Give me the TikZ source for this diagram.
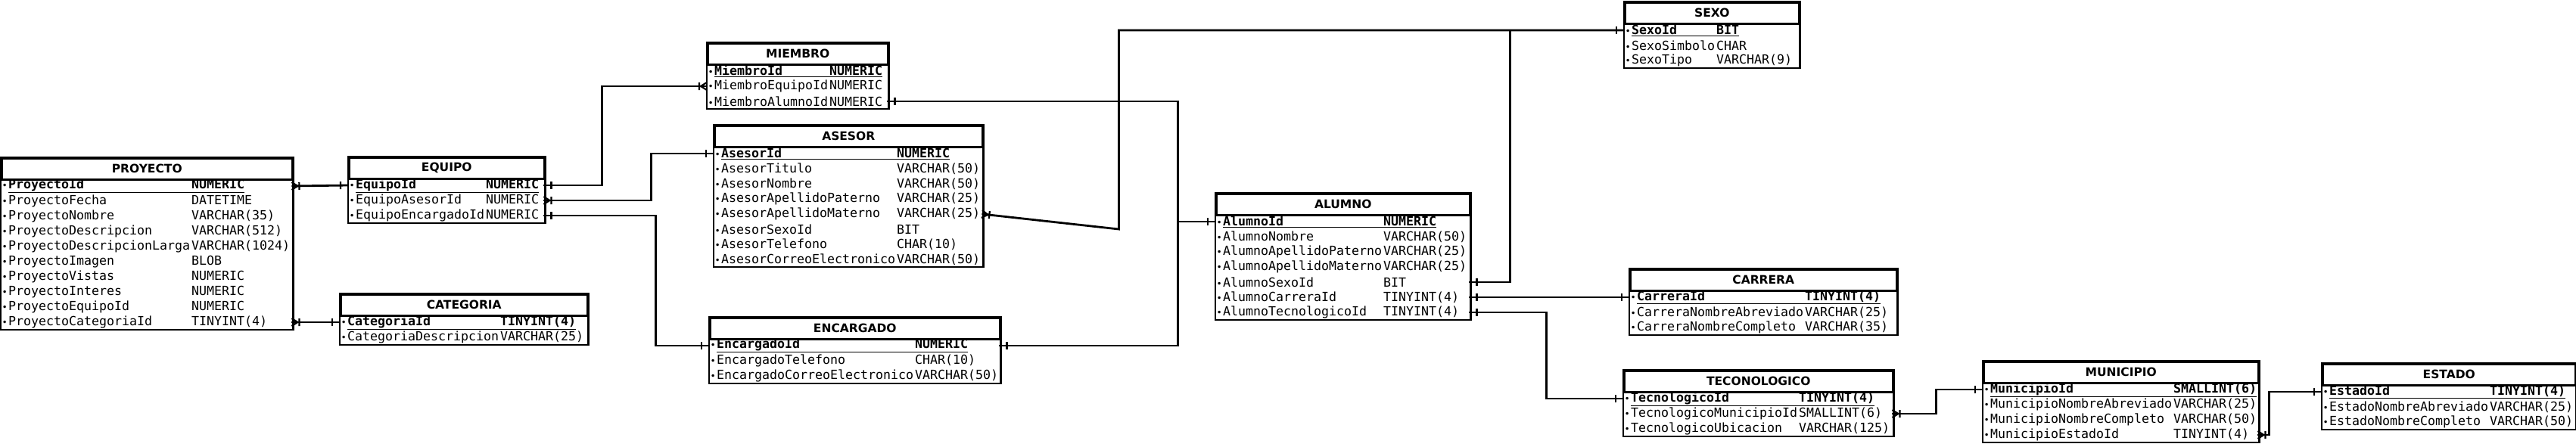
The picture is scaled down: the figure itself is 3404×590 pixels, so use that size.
\documentclass[tikz,border=0pt]{standalone}
\usepackage{fontspec}
\setmonofont{DejaVu Sans Mono}
\setsansfont{DejaVu Sans}
\usetikzlibrary{fit,decorations.markings}
\newcommand{\rowfont}{\ttfamily\fontsize{16.61}{20}\selectfont}
\newcommand{\titlefont}{\sffamily\bfseries\fontsize{15.5}{18}\selectfont}
\newcommand{\bul}{\makebox[10pt][c]{\fontsize{12}{12}\selectfont\textbullet}}
\newcommand{\pk}[1]{\textbf{\underline{#1}}}

\begin{document}
\begin{tikzpicture}[x=1pt,y=-1pt]

\tikzstyle{tbltitle}=[draw, line width=2.5pt, anchor=north west, minimum height=28pt, inner sep=0pt, font=\titlefont]
\tikzstyle{tblrow}=[anchor=west, inner sep=0pt, minimum height=20pt, align=left, font=\rowfont]
\tikzstyle{tblbox}=[draw, line width=2.5pt, inner sep=0pt]
\tikzstyle{link}=[line width=2.8pt]
\tikzstyle{one start}=[postaction={decorate,decoration={markings,mark=at position 10pt with {\draw[line width=2.2pt] (0pt,-5pt) -- (0pt,5pt);}}}]
\tikzstyle{one end}=[postaction={decorate,decoration={markings,mark=at position -10pt with {\draw[line width=2.2pt] (0pt,-5pt) -- (0pt,5pt);}}}]
\tikzstyle{many start}=[postaction={decorate,decoration={markings,mark=at position 0pt with {\draw[line width=2.2pt] (0pt,-5pt) -- (8pt,0pt) -- (0pt,5pt) (10pt,-5pt) -- (10pt,5pt);}}}]
\tikzstyle{many end}=[postaction={decorate,decoration={markings,mark=at position 1 with {\draw[line width=2.2pt] (0pt,-5pt) -- (-8pt,0pt) -- (0pt,5pt) (-10pt,-5pt) -- (-10pt,5pt);}}}]

\useasboundingbox (0,0) rectangle (3404,590);

% PROYECTO
\node[tbltitle, minimum width=384pt] (proyecto) at (1,208) {PROYECTO};
\node[tblrow, text width=384pt] (proyecto-1) at (1,246) {\bul\pk{\makebox[242pt][l]{ProyectoId}NUMERIC}};
\node[tblrow, text width=384pt] (proyecto-2) at (1,266) {\bul\makebox[242pt][l]{ProyectoFecha}DATETIME};
\node[tblrow, text width=384pt] (proyecto-3) at (1,286) {\bul\makebox[242pt][l]{ProyectoNombre}VARCHAR(35)};
\node[tblrow, text width=384pt] (proyecto-4) at (1,306) {\bul\makebox[242pt][l]{ProyectoDescripcion}VARCHAR(512)};
\node[tblrow, text width=384pt] (proyecto-5) at (1,326) {\bul\makebox[242pt][l]{ProyectoDescripcionLarga}VARCHAR(1024)};
\node[tblrow, text width=384pt] (proyecto-6) at (1,346) {\bul\makebox[242pt][l]{ProyectoImagen}BLOB};
\node[tblrow, text width=384pt] (proyecto-7) at (1,366) {\bul\makebox[242pt][l]{ProyectoVistas}NUMERIC};
\node[tblrow, text width=384pt] (proyecto-8) at (1,386) {\bul\makebox[242pt][l]{ProyectoInteres}NUMERIC};
\node[tblrow, text width=384pt] (proyecto-9) at (1,406) {\bul\makebox[242pt][l]{ProyectoEquipoId}NUMERIC};
\node[tblrow, text width=384pt] (proyecto-10) at (1,426) {\bul\makebox[242pt][l]{ProyectoCategoriaId}TINYINT(4)};
\node[tblbox, fit=(proyecto)(proyecto-10)] (proyecto-box) {};

% EQUIPO
\node[tbltitle, minimum width=258pt] (equipo) at (460,207) {EQUIPO};
\node[tblrow, text width=258pt] (equipo-1) at (460,245) {\bul\pk{\makebox[172pt][l]{EquipoId}NUMERIC}};
\node[tblrow, text width=258pt] (equipo-2) at (460,265) {\bul\makebox[172pt][l]{EquipoAsesorId}NUMERIC};
\node[tblrow, text width=258pt] (equipo-3) at (460,285) {\bul\makebox[172pt][l]{EquipoEncargadoId}NUMERIC};
\node[tblbox, fit=(equipo)(equipo-3)] (equipo-box) {};

% CATEGORIA
\node[tbltitle, minimum width=326pt] (categoria) at (449,388) {CATEGORIA};
\node[tblrow, text width=326pt] (categoria-1) at (449,426) {\bul\pk{\makebox[202pt][l]{CategoriaId}TINYINT(4)}};
\node[tblrow, text width=326pt] (categoria-2) at (449,446) {\bul\makebox[202pt][l]{CategoriaDescripcion}VARCHAR(25)};
\node[tblbox, fit=(categoria)(categoria-2)] (categoria-box) {};

% MIEMBRO
\node[tbltitle, minimum width=238pt] (miembro) at (934,56) {MIEMBRO};
\node[tblrow, text width=238pt] (miembro-1) at (934,94) {\bul\pk{\makebox[152pt][l]{MiembroId}NUMERIC}};
\node[tblrow, text width=238pt] (miembro-2) at (934,114) {\bul\makebox[152pt][l]{MiembroEquipoId}NUMERIC};
\node[tblrow, text width=238pt] (miembro-3) at (934,134) {\bul\makebox[152pt][l]{MiembroAlumnoId}NUMERIC};
\node[tblbox, fit=(miembro)(miembro-3)] (miembro-box) {};

% ASESOR
\node[tbltitle, minimum width=354pt] (asesor) at (943,165) {ASESOR};
\node[tblrow, text width=354pt] (asesor-1) at (943,203) {\bul\pk{\makebox[232pt][l]{AsesorId}NUMERIC}};
\node[tblrow, text width=354pt] (asesor-2) at (943,223) {\bul\makebox[232pt][l]{AsesorTitulo}VARCHAR(50)};
\node[tblrow, text width=354pt] (asesor-3) at (943,243) {\bul\makebox[232pt][l]{AsesorNombre}VARCHAR(50)};
\node[tblrow, text width=354pt] (asesor-4) at (943,263) {\bul\makebox[232pt][l]{AsesorApellidoPaterno}VARCHAR(25)};
\node[tblrow, text width=354pt] (asesor-5) at (943,283) {\bul\makebox[232pt][l]{AsesorApellidoMaterno}VARCHAR(25)};
\node[tblrow, text width=354pt] (asesor-6) at (943,303) {\bul\makebox[232pt][l]{AsesorSexoId}BIT};
\node[tblrow, text width=354pt] (asesor-7) at (943,323) {\bul\makebox[232pt][l]{AsesorTelefono}CHAR(10)};
\node[tblrow, text width=354pt] (asesor-8) at (943,343) {\bul\makebox[232pt][l]{AsesorCorreoElectronico}VARCHAR(50)};
\node[tblbox, fit=(asesor)(asesor-8)] (asesor-box) {};

% ENCARGADO
\node[tbltitle, minimum width=383pt] (encargado) at (937,419) {ENCARGADO};
\node[tblrow, text width=383pt] (encargado-1) at (937,457) {\bul\pk{\makebox[262pt][l]{EncargadoId}NUMERIC}};
\node[tblrow, text width=383pt] (encargado-2) at (937,477) {\bul\makebox[262pt][l]{EncargadoTelefono}CHAR(10)};
\node[tblrow, text width=383pt] (encargado-3) at (937,497) {\bul\makebox[262pt][l]{EncargadoCorreoElectronico}VARCHAR(50)};
\node[tblbox, fit=(encargado)(encargado-3)] (encargado-box) {};

% ALUMNO
\node[tbltitle, minimum width=335pt] (alumno) at (1606,255) {ALUMNO};
\node[tblrow, text width=335pt] (alumno-1) at (1606,293) {\bul\pk{\makebox[212pt][l]{AlumnoId}NUMERIC}};
\node[tblrow, text width=335pt] (alumno-2) at (1606,313) {\bul\makebox[212pt][l]{AlumnoNombre}VARCHAR(50)};
\node[tblrow, text width=335pt] (alumno-3) at (1606,333) {\bul\makebox[212pt][l]{AlumnoApellidoPaterno}VARCHAR(25)};
\node[tblrow, text width=335pt] (alumno-4) at (1606,353) {\bul\makebox[212pt][l]{AlumnoApellidoMaterno}VARCHAR(25)};
\node[tblrow, text width=335pt] (alumno-5) at (1606,373) {\bul\makebox[212pt][l]{AlumnoSexoId}BIT};
\node[tblrow, text width=335pt] (alumno-6) at (1606,393) {\bul\makebox[212pt][l]{AlumnoCarreraId}TINYINT(4)};
\node[tblrow, text width=335pt] (alumno-7) at (1606,413) {\bul\makebox[212pt][l]{AlumnoTecnologicoId}TINYINT(4)};
\node[tblbox, fit=(alumno)(alumno-7)] (alumno-box) {};

% SEXO
\node[tbltitle, minimum width=230pt] (sexo) at (2146,2) {SEXO};
\node[tblrow, text width=230pt] (sexo-1) at (2146,40) {\bul\pk{\makebox[112pt][l]{SexoId}BIT}};
\node[tblrow, text width=230pt] (sexo-2) at (2146,60) {\bul\makebox[112pt][l]{SexoSimbolo}CHAR};
\node[tblrow, text width=230pt] (sexo-3) at (2146,80) {\bul\makebox[112pt][l]{SexoTipo}VARCHAR(9)};
\node[tblbox, fit=(sexo)(sexo-3)] (sexo-box) {};

% CARRERA
\node[tbltitle, minimum width=352pt] (carrera) at (2153,355) {CARRERA};
\node[tblrow, text width=352pt] (carrera-1) at (2153,393) {\bul\pk{\makebox[222pt][l]{CarreraId}TINYINT(4)}};
\node[tblrow, text width=352pt] (carrera-2) at (2153,413) {\bul\makebox[222pt][l]{CarreraNombreAbreviado}VARCHAR(25)};
\node[tblrow, text width=352pt] (carrera-3) at (2153,433) {\bul\makebox[222pt][l]{CarreraNombreCompleto}VARCHAR(35)};
\node[tblbox, fit=(carrera)(carrera-3)] (carrera-box) {};

% TECONOLOGICO
\node[tbltitle, minimum width=355pt] (tecnologico) at (2145,489) {TECONOLOGICO};
\node[tblrow, text width=355pt] (tecnologico-1) at (2145,527) {\bul\pk{\makebox[222pt][l]{TecnologicoId}TINYINT(4)}};
\node[tblrow, text width=355pt] (tecnologico-2) at (2145,547) {\bul\makebox[222pt][l]{TecnologicoMunicipioId}SMALLINT(6)};
\node[tblrow, text width=355pt] (tecnologico-3) at (2145,567) {\bul\makebox[222pt][l]{TecnologicoUbicacion}VARCHAR(125)};
\node[tblbox, fit=(tecnologico)(tecnologico-3)] (tecnologico-box) {};

% MUNICIPIO
\node[tbltitle, minimum width=363pt] (municipio) at (2620,477) {MUNICIPIO};
\node[tblrow, text width=363pt] (municipio-1) at (2620,515) {\bul\pk{\makebox[242pt][l]{MunicipioId}SMALLINT(6)}};
\node[tblrow, text width=363pt] (municipio-2) at (2620,535) {\bul\makebox[242pt][l]{MunicipioNombreAbreviado}VARCHAR(25)};
\node[tblrow, text width=363pt] (municipio-3) at (2620,555) {\bul\makebox[242pt][l]{MunicipioNombreCompleto}VARCHAR(50)};
\node[tblrow, text width=363pt] (municipio-4) at (2620,575) {\bul\makebox[242pt][l]{MunicipioEstadoId}TINYINT(4)};
\node[tblbox, fit=(municipio)(municipio-4)] (municipio-box) {};

% ESTADO
\node[tbltitle, minimum width=334pt] (estado) at (3068,480) {ESTADO};
\node[tblrow, text width=334pt] (estado-1) at (3068,518) {\bul\pk{\makebox[212pt][l]{EstadoId}TINYINT(4)}};
\node[tblrow, text width=334pt] (estado-2) at (3068,538) {\bul\makebox[212pt][l]{EstadoNombreAbreviado}VARCHAR(25)};
\node[tblrow, text width=334pt] (estado-3) at (3068,558) {\bul\makebox[212pt][l]{EstadoNombreCompleto}VARCHAR(50)};
\node[tblbox, fit=(estado)(estado-3)] (estado-box) {};

% relaciones
\draw[link, many start, one end] (proyecto-1.east) -- (equipo-1.west);
\draw[link, many start, one end] (proyecto-10.east) -- (categoria-1.west);
\draw[link, one start, many end] (equipo-1.east) -- ++(77,0) |- (miembro-2.west);
\draw[link, many start, one end] (equipo-2.east) -- ++(142,0) |- (asesor-1.west);
\draw[link, one start, one end] (equipo-3.east) -- ++(148,0) |- (encargado-1.west);
\draw[link, one start, one end] (miembro-3.east) -- ++(384,0) |- (alumno-1.west);
\draw[link, one start, one end] (encargado-1.east) -- ++(236,0) |- (alumno-1.west);
\draw[link, many start, one end] (asesor-5.east) -- ++(181,20) |- (sexo-1.west);
\draw[link, one start, one end] (alumno-5.east) -- ++(54,0) |- (sexo-1.west);
\draw[link, one start, one end] (alumno-6.east) -- (carrera-1.west);
\draw[link, one start, one end] (alumno-7.east) -- ++(102,0) |- (tecnologico-1.west);
\draw[link, many start, one end] (tecnologico-2.east) -- ++(58,0) |- (municipio-1.west);
\draw[link, many start, one end] (municipio-4.east) -- ++(15,0) |- (estado-1.west);
\end{tikzpicture}
\end{document}
